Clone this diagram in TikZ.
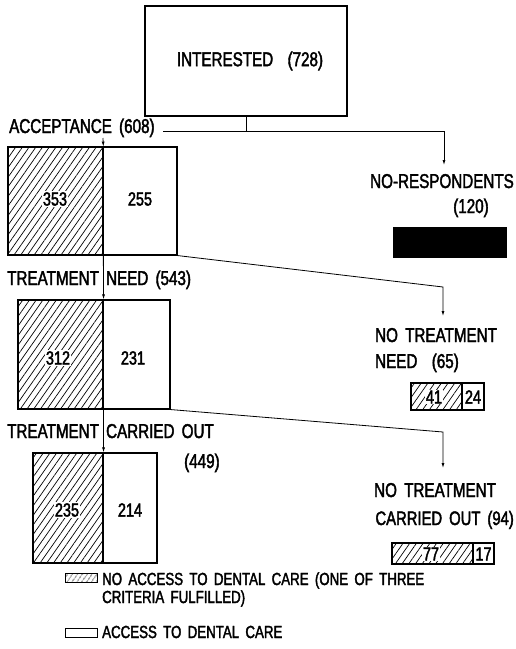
\documentclass[tikz,border=0pt]{standalone}
\usepackage{fontspec}
\setmainfont{Liberation Sans}[FakeStretch=0.76,FakeBold=2,WordSpace=1.7]
\usetikzlibrary{patterns.meta,arrows.meta}
\begin{document}
\begin{tikzpicture}[x=1pt,y=-1pt,
  txt/.style={font=\fontsize{20}{24}\selectfont, inner sep=0pt, anchor=base west},
  lgt/.style={font=\fontsize{17.5}{20}\selectfont, inner sep=0pt, anchor=base west},
  num/.style={font=\fontsize{19}{22}\selectfont, inner sep=1.2pt, fill=white},
  hatchbox/.style={draw, line width=1.1pt, inner sep=0pt, pattern={Lines[angle=55,distance=5.5pt,line width=0.7pt]}},
  openbox/.style={draw, line width=1.1pt, inner sep=0pt, fill=white},
  conn/.style={line width=0.8pt},
  arr/.style={line width=0.8pt, -{Latex[length=5pt,width=3pt]}}]
\useasboundingbox (0,0) rectangle (515,649);
% top box
\node[draw, line width=1.1pt, minimum width=202pt, minimum height=110pt, font=\fontsize{20}{24}\selectfont] (int) at (246,61) {\hspace{8pt}INTERESTED\ \ (728)};
% acceptance
\node[txt] (acc) at (9,133) {ACCEPTANCE (608)};
\node[hatchbox, minimum width=95pt, minimum height=108pt] (a1) at (55.5,201) {};
\node[openbox, minimum width=74pt, minimum height=108pt] (w1) at (140,201) {};
\node[num] (n353) at (55,199) {353};
\node[num] (n255) at (140,199) {255};
% no respondents
\node[txt, anchor=base east] (nr) at (514,188) {NO-RESPONDENTS};
\node[txt, anchor=base] (nr2) at (471,213) {(120)};
\node[draw, fill=black, minimum width=113pt, minimum height=30pt, inner sep=0pt] (blk) at (449.5,242) {};
% treatment need
\node[txt] (tn) at (7,285) {TREATMENT NEED (543)};
\node[hatchbox, minimum width=85pt, minimum height=109pt] (a2) at (60.5,354.5) {};
\node[openbox, minimum width=67pt, minimum height=109pt] (w2) at (136.5,354.5) {};
\node[num] (n312) at (58,358) {312};
\node[num] (n231) at (133,358) {231};
% no treatment need
\node[txt] (ntn1) at (375,342) {NO TREATMENT};
\node[txt] (ntn2) at (375,368) {NEED\ \ (65)};
\node[hatchbox, minimum width=51pt, minimum height=27pt] (s1a) at (436.5,396.5) {};
\node[openbox, minimum width=22pt, minimum height=27pt] (s1w) at (473,396.5) {};
\node[num, inner sep=0.5pt] (n41) at (434,397) {41};
\node[num, fill=none] (n24) at (473,397) {24};
% treatment carried out
\node[txt] (tco) at (7,438) {TREATMENT CARRIED OUT};
\node[txt] (tco2) at (184,468) {(449)};
\node[hatchbox, minimum width=70pt, minimum height=110pt] (a3) at (68,508) {};
\node[openbox, minimum width=54pt, minimum height=110pt] (w3) at (130,508) {};
\node[num] (n235) at (67,510) {235};
\node[num] (n214) at (130,510) {214};
% no treatment carried out
\node[txt] (ntc1) at (374,497) {NO TREATMENT};
\node[txt, anchor=base east, font=\fontsize{19.5}{24}\selectfont] (ntc2) at (514,525) {CARRIED OUT (94)};
\node[hatchbox, minimum width=81pt, minimum height=21pt] (s2a) at (432.5,553.5) {};
\node[openbox, minimum width=21pt, minimum height=21pt] (s2w) at (483.5,553.5) {};
\node[num, inner sep=0.5pt] (n77) at (431,554) {77};
\node[num, fill=none] (n17) at (483.5,554) {17};
% connectors
\coordinate (jc) at (246,131.5);
\coordinate (hl) at (163,131.5);
\coordinate (hr) at (444,131.5);
\coordinate (nrt) at (444,165);
\draw[conn] (int.south) -- (jc);
\draw[arr] (hl) -- (hr) -- (nrt);
\coordinate (s1) at (103,138);
\draw[arr] (s1) -- (a1.north east);
\coordinate (k1) at (443,287);
\coordinate (k1t) at (443,316);
\draw[arr] (w1.south east) -- (k1) -- (k1t);
\draw[arr] (a1.south east) -- (a2.north east);
\coordinate (k2) at (443,432);
\coordinate (k2t) at (443,468);
\draw[arr] (w2.south east) -- (k2) -- (k2t);
\draw[arr] (a2.south east) -- (a3.north east);
% legend
\node[draw, line width=0.9pt, minimum width=32pt, minimum height=9pt, inner sep=0pt, pattern={Lines[angle=55,distance=4pt,line width=0.6pt]}] (lg1) at (81,577.5) {};
\node[lgt] (lt1) at (102,585) {NO ACCESS TO DENTAL CARE (ONE OF THREE};
\node[lgt] (lt2) at (102,603) {CRITERIA FULFILLED)};
\node[openbox, line width=0.9pt, minimum width=32pt, minimum height=9pt] (lg2) at (81,632.5) {};
\node[lgt] (lt3) at (102,638) {ACCESS TO DENTAL CARE};
\end{tikzpicture}
\end{document}
